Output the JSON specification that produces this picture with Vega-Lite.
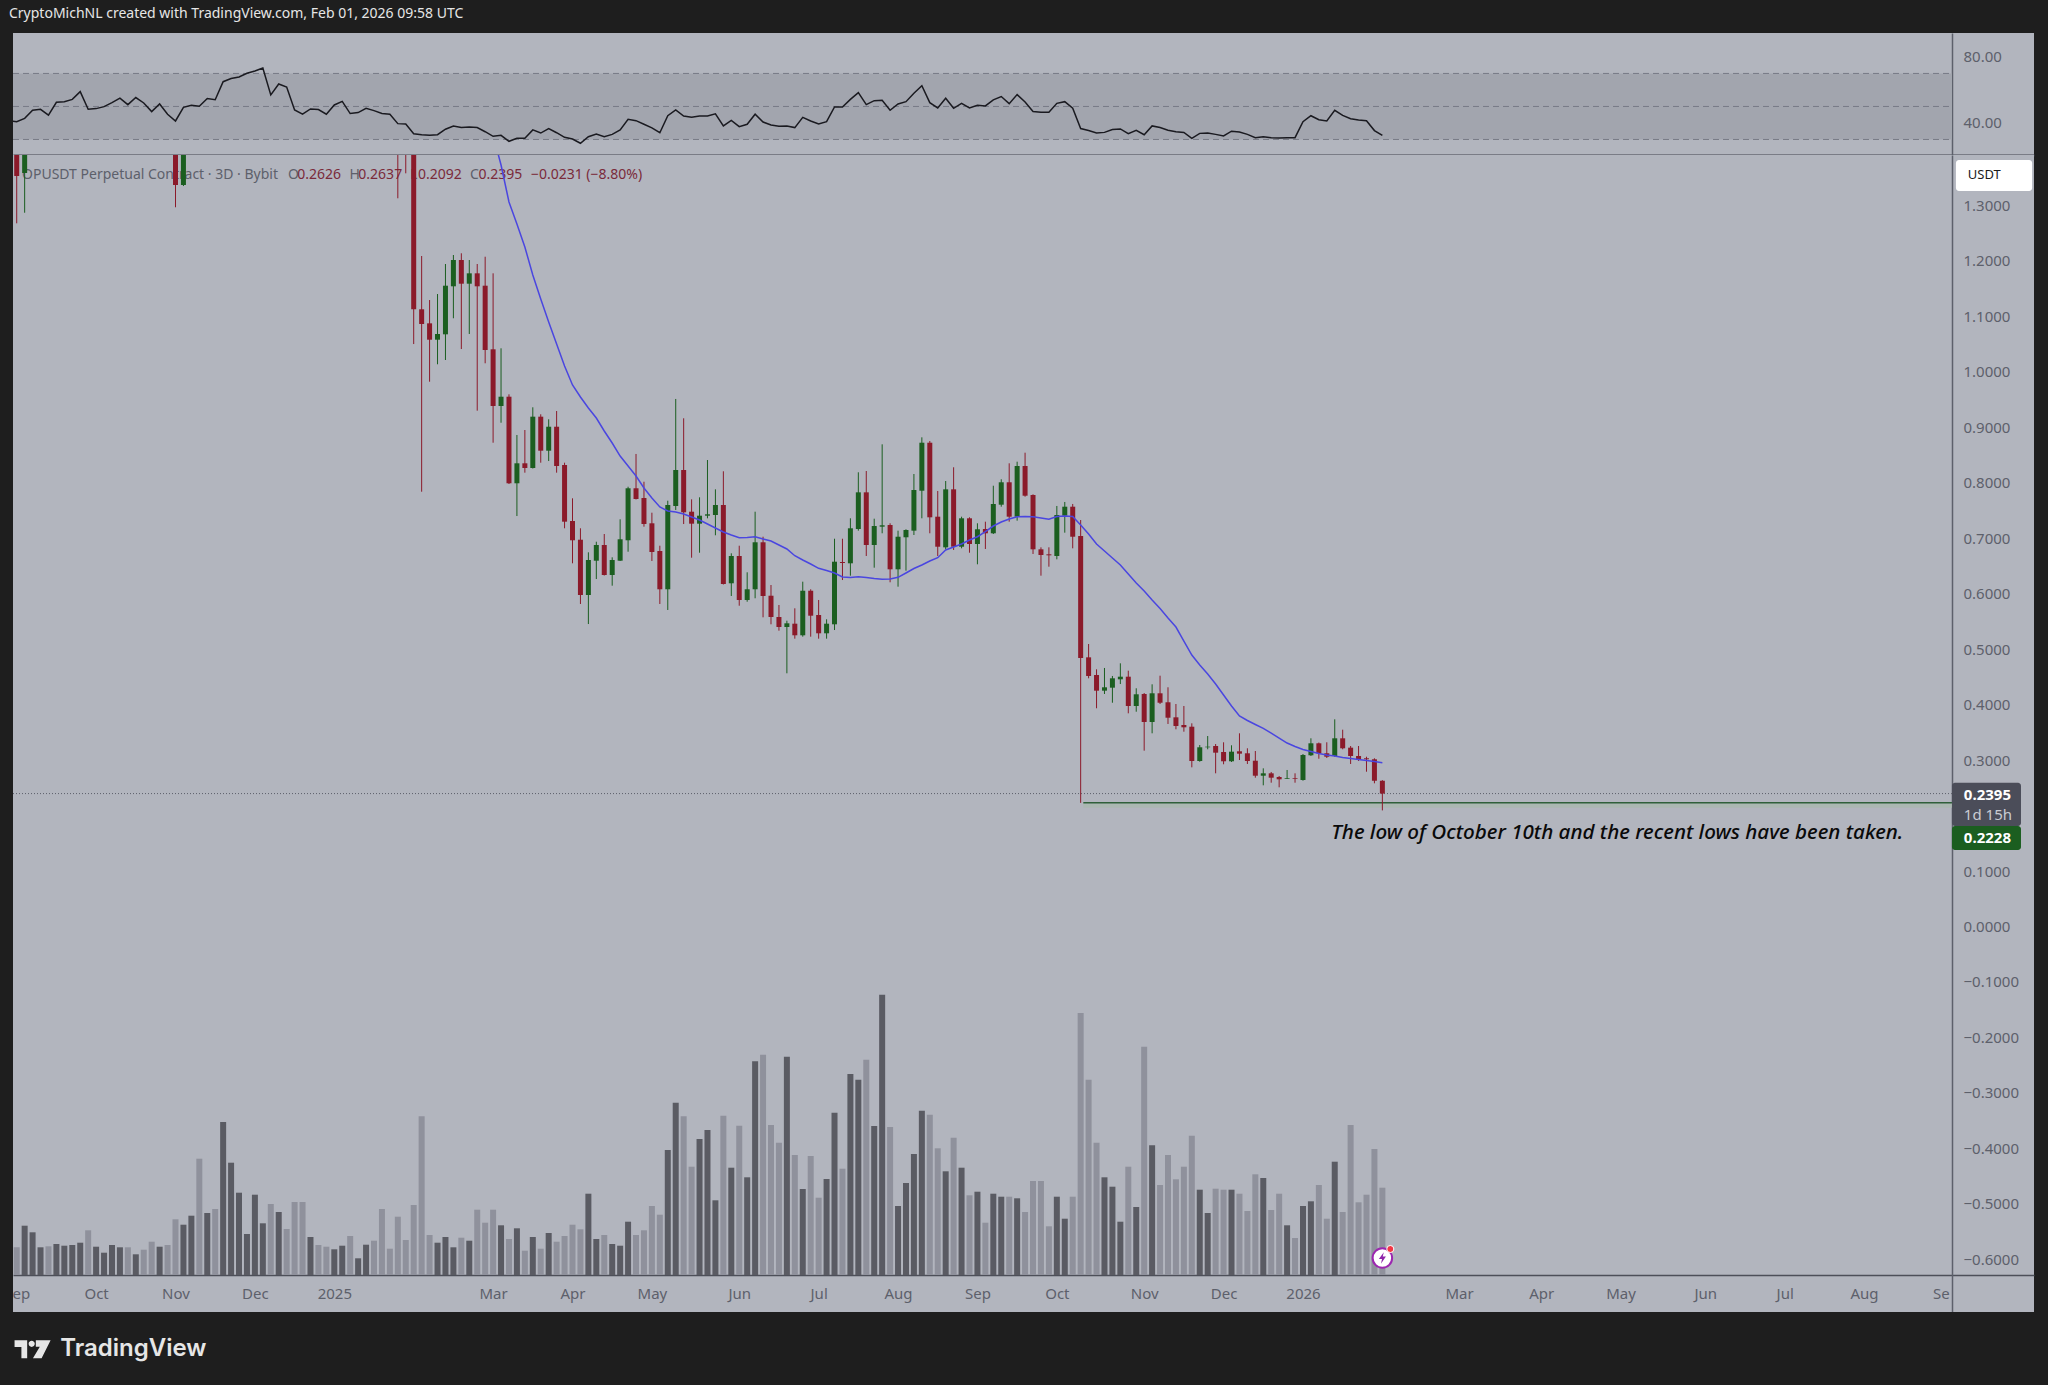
{"$schema":"https://vega.github.io/schema/vega-lite/v6.json","background":"#1e1e1e","padding":{"left":8,"top":0,"right":15,"bottom":0},"autosize":{"type":"pad"},"spacing":0,"config":{"font":"Noto Sans","view":{"fill":"#b2b5be","stroke":null},"concat":{"spacing":0}},
"datasets":{"bars":[
{"t":"2024-08-30","rsi":41.4},
{"t":"2024-09-02","dir":"down","o":1.46,"h":1.52,"l":1.267,"c":1.3523,"v":27.7,"rsi":40.8},
{"t":"2024-09-05","dir":"up","o":1.3577,"h":1.55,"l":1.2861,"c":1.48,"v":49.3,"rsi":42.8},
{"t":"2024-09-08","dir":"up","o":1.48,"h":1.62,"l":1.44,"c":1.58,"v":42.7,"rsi":47.7},
{"t":"2024-09-11","dir":"up","o":1.58,"h":1.66,"l":1.5,"c":1.6,"v":27.7,"rsi":48.3},
{"t":"2024-09-14","dir":"down","o":1.6,"h":1.64,"l":1.5,"c":1.54,"v":28.7,"rsi":44.8},
{"t":"2024-09-17","dir":"up","o":1.54,"h":1.72,"l":1.52,"c":1.68,"v":31,"rsi":52.5},
{"t":"2024-09-20","dir":"up","o":1.68,"h":1.76,"l":1.62,"c":1.7,"v":29.3,"rsi":52.9},
{"t":"2024-09-23","dir":"up","o":1.7,"h":1.8,"l":1.66,"c":1.74,"v":30,"rsi":54.3},
{"t":"2024-09-26","dir":"up","o":1.74,"h":1.92,"l":1.7,"c":1.86,"v":32.3,"rsi":59},
{"t":"2024-09-29","dir":"down","o":1.86,"h":1.9,"l":1.62,"c":1.68,"v":44.7,"rsi":48.3},
{"t":"2024-10-02","dir":"up","o":1.68,"h":1.74,"l":1.6,"c":1.69,"v":28.3,"rsi":48.7},
{"t":"2024-10-05","dir":"up","o":1.69,"h":1.76,"l":1.64,"c":1.71,"v":22.3,"rsi":49.9},
{"t":"2024-10-08","dir":"up","o":1.71,"h":1.8,"l":1.68,"c":1.76,"v":30,"rsi":52.3},
{"t":"2024-10-11","dir":"up","o":1.76,"h":1.86,"l":1.72,"c":1.82,"v":27.7,"rsi":55},
{"t":"2024-10-14","dir":"down","o":1.82,"h":1.84,"l":1.7,"c":1.74,"v":27.7,"rsi":51.1},
{"t":"2024-10-17","dir":"up","o":1.74,"h":1.88,"l":1.7,"c":1.84,"v":20.7,"rsi":55.4},
{"t":"2024-10-20","dir":"down","o":1.84,"h":1.86,"l":1.72,"c":1.76,"v":25.3,"rsi":52.1},
{"t":"2024-10-23","dir":"down","o":1.76,"h":1.78,"l":1.58,"c":1.62,"v":33.3,"rsi":46.9},
{"t":"2024-10-26","dir":"up","o":1.62,"h":1.74,"l":1.6,"c":1.7,"v":28.3,"rsi":51.5},
{"t":"2024-10-29","dir":"down","o":1.7,"h":1.72,"l":1.48,"c":1.52,"v":30,"rsi":45.3},
{"t":"2024-11-01","dir":"down","o":1.52,"h":1.58,"l":1.2959,"c":1.336,"v":55.7,"rsi":41.2},
{"t":"2024-11-04","dir":"up","o":1.336,"h":1.68,"l":1.3342,"c":1.6,"v":50.3,"rsi":49.5},
{"t":"2024-11-07","dir":"up","o":1.6,"h":1.7,"l":1.56,"c":1.64,"v":59.3,"rsi":50.7},
{"t":"2024-11-10","dir":"down","o":1.64,"h":1.72,"l":1.58,"c":1.62,"v":116.3,"rsi":50.1},
{"t":"2024-11-13","dir":"up","o":1.62,"h":1.84,"l":1.6,"c":1.78,"v":62,"rsi":54.8},
{"t":"2024-11-16","dir":"down","o":1.78,"h":1.84,"l":1.68,"c":1.76,"v":66,"rsi":54.1},
{"t":"2024-11-19","dir":"up","o":1.76,"h":2.4,"l":1.74,"c":2.3,"v":153,"rsi":65},
{"t":"2024-11-22","dir":"up","o":2.3,"h":2.52,"l":2.2,"c":2.44,"v":112.3,"rsi":66.9},
{"t":"2024-11-25","dir":"up","o":2.44,"h":2.62,"l":2.38,"c":2.56,"v":82.3,"rsi":67.9},
{"t":"2024-11-28","dir":"up","o":2.56,"h":2.78,"l":2.5,"c":2.72,"v":41,"rsi":70.1},
{"t":"2024-12-01","dir":"up","o":2.72,"h":2.9,"l":2.62,"c":2.8,"v":80.3,"rsi":71.5},
{"t":"2024-12-04","dir":"up","o":2.8,"h":3.05,"l":2.74,"c":2.98,"v":51.7,"rsi":73.3},
{"t":"2024-12-07","dir":"down","o":2.98,"h":3,"l":2.28,"c":2.36,"v":71,"rsi":57},
{"t":"2024-12-10","dir":"up","o":2.36,"h":2.72,"l":2.3,"c":2.62,"v":63,"rsi":63.6},
{"t":"2024-12-13","dir":"down","o":2.62,"h":2.66,"l":2.44,"c":2.52,"v":46,"rsi":61.8},
{"t":"2024-12-16","dir":"down","o":2.52,"h":2.54,"l":2,"c":2.06,"v":73,"rsi":47.9},
{"t":"2024-12-19","dir":"down","o":2.06,"h":2.1,"l":1.84,"c":1.92,"v":73,"rsi":45.3},
{"t":"2024-12-22","dir":"up","o":1.92,"h":2.06,"l":1.88,"c":2,"v":38,"rsi":48.5},
{"t":"2024-12-25","dir":"down","o":2,"h":2.02,"l":1.9,"c":1.96,"v":30,"rsi":48.1},
{"t":"2024-12-28","dir":"down","o":1.96,"h":2,"l":1.84,"c":1.88,"v":28.3,"rsi":45.3},
{"t":"2024-12-31","dir":"up","o":1.88,"h":2,"l":1.84,"c":1.94,"v":25.7,"rsi":50.9},
{"t":"2025-01-03","dir":"up","o":1.94,"h":2.12,"l":1.9,"c":2.04,"v":29.3,"rsi":53.1},
{"t":"2025-01-06","dir":"down","o":2.04,"h":2.06,"l":1.82,"c":1.86,"v":39,"rsi":45.7},
{"t":"2025-01-09","dir":"up","o":1.86,"h":1.92,"l":1.8,"c":1.88,"v":16.7,"rsi":46.3},
{"t":"2025-01-12","dir":"up","o":1.88,"h":2,"l":1.82,"c":1.94,"v":30.3,"rsi":48.9},
{"t":"2025-01-15","dir":"down","o":1.94,"h":1.96,"l":1.84,"c":1.88,"v":34.3,"rsi":47.5},
{"t":"2025-01-18","dir":"down","o":1.88,"h":1.9,"l":1.74,"c":1.78,"v":66,"rsi":45.7},
{"t":"2025-01-21","dir":"down","o":1.78,"h":1.8,"l":1.68,"c":1.72,"v":26.3,"rsi":45.3},
{"t":"2025-01-24","dir":"down","o":1.72,"h":1.76,"l":1.3121,"c":1.54,"v":58.3,"rsi":39.6},
{"t":"2025-01-27","dir":"down","o":1.54,"h":1.6,"l":1.3571,"c":1.5,"v":35,"rsi":39.4},
{"t":"2025-01-30","dir":"down","o":1.5,"h":1.58,"l":1.0495,"c":1.1121,"v":70,"rsi":33.5},
{"t":"2025-02-02","dir":"down","o":1.1121,"h":1.2081,"l":0.7834,"c":1.0856,"v":158.7,"rsi":32.9},
{"t":"2025-02-05","dir":"down","o":1.0868,"h":1.1288,"l":0.9816,"c":1.0573,"v":40,"rsi":32.5},
{"t":"2025-02-08","dir":"up","o":1.0573,"h":1.1396,"l":1.013,"c":1.0676,"v":32.3,"rsi":32.9},
{"t":"2025-02-11","dir":"up","o":1.067,"h":1.1937,"l":1.0207,"c":1.1546,"v":38,"rsi":36.2},
{"t":"2025-02-14","dir":"up","o":1.1535,"h":1.2099,"l":1.0959,"c":1.2009,"v":27.7,"rsi":38.2},
{"t":"2025-02-17","dir":"down","o":1.2009,"h":1.213,"l":1.0405,"c":1.1582,"v":37.3,"rsi":37.2},
{"t":"2025-02-20","dir":"up","o":1.1582,"h":1.2009,"l":1.0676,"c":1.1769,"v":34.3,"rsi":37.6},
{"t":"2025-02-23","dir":"down","o":1.1769,"h":1.1937,"l":0.9294,"c":1.1535,"v":65.3,"rsi":37.2},
{"t":"2025-02-26","dir":"down","o":1.1546,"h":1.2068,"l":1.0148,"c":1.0387,"v":52.3,"rsi":34.7},
{"t":"2025-03-01","dir":"down","o":1.04,"h":1.1769,"l":0.8717,"c":0.9378,"v":65.3,"rsi":31.9,"ma":1.4261},
{"t":"2025-03-04","dir":"up","o":0.9378,"h":1.0418,"l":0.9077,"c":0.9546,"v":49.7,"rsi":32.5,"ma":1.3721},
{"t":"2025-03-07","dir":"down","o":0.9546,"h":0.9589,"l":0.7973,"c":0.7986,"v":36,"rsi":28.9,"ma":1.3054},
{"t":"2025-03-10","dir":"up","o":0.7986,"h":0.8856,"l":0.7396,"c":0.8346,"v":46.7,"rsi":30.7,"ma":1.2658},
{"t":"2025-03-13","dir":"down","o":0.8346,"h":0.8946,"l":0.8177,"c":0.8261,"v":24.3,"rsi":30.7,"ma":1.2243},
{"t":"2025-03-16","dir":"up","o":0.8261,"h":0.9355,"l":0.8252,"c":0.9186,"v":38,"rsi":35.8,"ma":1.1739},
{"t":"2025-03-19","dir":"down","o":0.9186,"h":0.9229,"l":0.8357,"c":0.8573,"v":26.3,"rsi":33.9,"ma":1.1306},
{"t":"2025-03-22","dir":"up","o":0.8573,"h":0.9139,"l":0.8387,"c":0.9005,"v":42,"rsi":36.6,"ma":1.0892},
{"t":"2025-03-25","dir":"down","o":0.9005,"h":0.9288,"l":0.8177,"c":0.8297,"v":33.3,"rsi":34.1,"ma":1.0495},
{"t":"2025-03-28","dir":"down","o":0.8315,"h":0.8357,"l":0.7175,"c":0.7294,"v":39,"rsi":31.3,"ma":1.0099},
{"t":"2025-03-31","dir":"down","o":0.7306,"h":0.7715,"l":0.6544,"c":0.6959,"v":50.3,"rsi":30.3,"ma":0.9757},
{"t":"2025-04-03","dir":"down","o":0.6969,"h":0.7175,"l":0.5811,"c":0.5973,"v":45.7,"rsi":27.7,"ma":0.9541},
{"t":"2025-04-06","dir":"up","o":0.5973,"h":0.6742,"l":0.545,"c":0.6604,"v":81.3,"rsi":31.7,"ma":0.9342},
{"t":"2025-04-09","dir":"up","o":0.6591,"h":0.6933,"l":0.6261,"c":0.6874,"v":36,"rsi":33.3,"ma":0.9162},
{"t":"2025-04-12","dir":"down","o":0.6874,"h":0.7072,"l":0.6324,"c":0.6333,"v":40,"rsi":31.7,"ma":0.8928},
{"t":"2025-04-15","dir":"up","o":0.6333,"h":0.6652,"l":0.6141,"c":0.6604,"v":31,"rsi":33.1,"ma":0.8712},
{"t":"2025-04-18","dir":"up","o":0.6591,"h":0.7337,"l":0.6586,"c":0.6977,"v":29.3,"rsi":35.8,"ma":0.8477},
{"t":"2025-04-21","dir":"up","o":0.6959,"h":0.7924,"l":0.6753,"c":0.7896,"v":53.3,"rsi":42.2,"ma":0.8297},
{"t":"2025-04-24","dir":"down","o":0.7896,"h":0.8514,"l":0.7694,"c":0.7703,"v":40,"rsi":41.4,"ma":0.8117},
{"t":"2025-04-27","dir":"down","o":0.7721,"h":0.8014,"l":0.7204,"c":0.7252,"v":44.7,"rsi":39.2,"ma":0.7901},
{"t":"2025-04-30","dir":"down","o":0.7265,"h":0.7456,"l":0.6586,"c":0.6748,"v":69,"rsi":37,"ma":0.7721},
{"t":"2025-05-03","dir":"down","o":0.6766,"h":0.6861,"l":0.5811,"c":0.6076,"v":60.3,"rsi":34.1,"ma":0.7559},
{"t":"2025-05-06","dir":"up","o":0.6076,"h":0.7672,"l":0.5703,"c":0.7595,"v":125,"rsi":44.4,"ma":0.7486},
{"t":"2025-05-09","dir":"up","o":0.7577,"h":0.9505,"l":0.7505,"c":0.8225,"v":172.3,"rsi":47.9,"ma":0.7468},
{"t":"2025-05-12","dir":"down","o":0.8225,"h":0.9157,"l":0.7252,"c":0.7463,"v":158.7,"rsi":44.2,"ma":0.7432},
{"t":"2025-05-15","dir":"down","o":0.7474,"h":0.7697,"l":0.6645,"c":0.7258,"v":108.3,"rsi":43.4,"ma":0.7378},
{"t":"2025-05-18","dir":"up","o":0.7258,"h":0.7733,"l":0.6735,"c":0.7402,"v":136,"rsi":44.2,"ma":0.7324},
{"t":"2025-05-21","dir":"up","o":0.7402,"h":0.8405,"l":0.7355,"c":0.7427,"v":145,"rsi":44.2,"ma":0.7252},
{"t":"2025-05-24","dir":"up","o":0.7414,"h":0.7877,"l":0.7049,"c":0.7595,"v":74.7,"rsi":45.5,"ma":0.718},
{"t":"2025-05-27","dir":"down","o":0.7595,"h":0.8202,"l":0.6162,"c":0.6171,"v":159.3,"rsi":38.2,"ma":0.7108},
{"t":"2025-05-30","dir":"up","o":0.6184,"h":0.6724,"l":0.5955,"c":0.6676,"v":107.3,"rsi":41.6,"ma":0.7054},
{"t":"2025-06-02","dir":"down","o":0.6676,"h":0.6861,"l":0.578,"c":0.5883,"v":149.3,"rsi":37.8,"ma":0.7005},
{"t":"2025-06-05","dir":"up","o":0.5883,"h":0.6382,"l":0.5852,"c":0.6076,"v":97.7,"rsi":39.2,"ma":0.7009},
{"t":"2025-06-08","dir":"up","o":0.6076,"h":0.7474,"l":0.5914,"c":0.6923,"v":213.7,"rsi":45.3,"ma":0.7023},
{"t":"2025-06-11","dir":"down","o":0.6923,"h":0.7023,"l":0.5571,"c":0.5955,"v":220.3,"rsi":40.6,"ma":0.6982},
{"t":"2025-06-14","dir":"down","o":0.596,"h":0.6153,"l":0.5445,"c":0.5577,"v":150,"rsi":38.8,"ma":0.6946},
{"t":"2025-06-17","dir":"down","o":0.5577,"h":0.5793,"l":0.533,"c":0.5396,"v":132.3,"rsi":38,"ma":0.6874},
{"t":"2025-06-20","dir":"up","o":0.5396,"h":0.551,"l":0.4562,"c":0.5463,"v":218.3,"rsi":38.2,"ma":0.6802},
{"t":"2025-06-23","dir":"down","o":0.5456,"h":0.5733,"l":0.5186,"c":0.5247,"v":120,"rsi":37.2,"ma":0.6681},
{"t":"2025-06-26","dir":"up","o":0.5247,"h":0.6213,"l":0.5222,"c":0.605,"v":86,"rsi":43.4,"ma":0.6604},
{"t":"2025-06-29","dir":"down","o":0.605,"h":0.6076,"l":0.5222,"c":0.56,"v":119,"rsi":41.2,"ma":0.6532},
{"t":"2025-07-02","dir":"down","o":0.5613,"h":0.5883,"l":0.5186,"c":0.5283,"v":77.3,"rsi":39.4,"ma":0.6454},
{"t":"2025-07-05","dir":"up","o":0.5283,"h":0.5535,"l":0.5186,"c":0.5456,"v":96,"rsi":40.8,"ma":0.6414},
{"t":"2025-07-08","dir":"up","o":0.5445,"h":0.6987,"l":0.5342,"c":0.6573,"v":162.3,"rsi":49.7,"ma":0.6369},
{"t":"2025-07-11","dir":"down","o":0.6568,"h":0.6987,"l":0.6243,"c":0.655,"v":106.3,"rsi":49.7,"ma":0.6297},
{"t":"2025-07-14","dir":"up","o":0.6544,"h":0.7355,"l":0.6321,"c":0.7175,"v":201,"rsi":54.3,"ma":0.6288},
{"t":"2025-07-17","dir":"up","o":0.7162,"h":0.8184,"l":0.7132,"c":0.7823,"v":195.3,"rsi":58.4,"ma":0.6303},
{"t":"2025-07-20","dir":"down","o":0.7823,"h":0.8207,"l":0.6676,"c":0.6874,"v":215.3,"rsi":51.1,"ma":0.6288},
{"t":"2025-07-23","dir":"up","o":0.6874,"h":0.7348,"l":0.6465,"c":0.7216,"v":149,"rsi":53.5,"ma":0.627},
{"t":"2025-07-26","dir":"up","o":0.7204,"h":0.8688,"l":0.7085,"c":0.7229,"v":280.3,"rsi":53.7,"ma":0.6256},
{"t":"2025-07-29","dir":"down","o":0.7234,"h":0.7265,"l":0.6202,"c":0.6436,"v":148,"rsi":47.7,"ma":0.6261},
{"t":"2025-08-01","dir":"up","o":0.6436,"h":0.7132,"l":0.6123,"c":0.7023,"v":69,"rsi":51.5,"ma":0.6292},
{"t":"2025-08-04","dir":"up","o":0.7013,"h":0.7157,"l":0.6411,"c":0.7144,"v":92,"rsi":52.9,"ma":0.6369},
{"t":"2025-08-07","dir":"up","o":0.7132,"h":0.8153,"l":0.7054,"c":0.7865,"v":121,"rsi":58,"ma":0.645},
{"t":"2025-08-10","dir":"up","o":0.7852,"h":0.8814,"l":0.7355,"c":0.8717,"v":164.3,"rsi":62.6,"ma":0.6514},
{"t":"2025-08-13","dir":"down","o":0.8717,"h":0.8748,"l":0.7085,"c":0.7373,"v":160.3,"rsi":52.3,"ma":0.6586},
{"t":"2025-08-16","dir":"down","o":0.7384,"h":0.7847,"l":0.6676,"c":0.6843,"v":126.7,"rsi":49.1,"ma":0.6645},
{"t":"2025-08-19","dir":"up","o":0.6832,"h":0.8027,"l":0.6796,"c":0.7877,"v":103.7,"rsi":55,"ma":0.6784},
{"t":"2025-08-22","dir":"down","o":0.7877,"h":0.8274,"l":0.6784,"c":0.6843,"v":137.3,"rsi":48.9,"ma":0.6838},
{"t":"2025-08-25","dir":"up","o":0.6843,"h":0.7384,"l":0.6814,"c":0.7355,"v":107.3,"rsi":51.9,"ma":0.6892},
{"t":"2025-08-28","dir":"down","o":0.7355,"h":0.7373,"l":0.6735,"c":0.6892,"v":79.7,"rsi":49.1,"ma":0.6964},
{"t":"2025-08-31","dir":"up","o":0.6892,"h":0.7265,"l":0.6526,"c":0.7157,"v":83.3,"rsi":50.7,"ma":0.7023},
{"t":"2025-09-03","dir":"down","o":0.7162,"h":0.7294,"l":0.6802,"c":0.7085,"v":52.3,"rsi":50.3,"ma":0.7117},
{"t":"2025-09-06","dir":"up","o":0.7085,"h":0.7942,"l":0.7072,"c":0.7613,"v":81.3,"rsi":54,"ma":0.7216},
{"t":"2025-09-09","dir":"up","o":0.76,"h":0.8058,"l":0.7564,"c":0.8004,"v":78.3,"rsi":56,"ma":0.7288},
{"t":"2025-09-12","dir":"down","o":0.8004,"h":0.8346,"l":0.7294,"c":0.7384,"v":78.3,"rsi":51.7,"ma":0.7342},
{"t":"2025-09-15","dir":"up","o":0.7384,"h":0.8375,"l":0.7312,"c":0.8297,"v":76.7,"rsi":57.2,"ma":0.7384},
{"t":"2025-09-18","dir":"down","o":0.8297,"h":0.8537,"l":0.7744,"c":0.7762,"v":63,"rsi":52.7,"ma":0.7387},
{"t":"2025-09-21","dir":"down","o":0.7775,"h":0.7787,"l":0.6712,"c":0.6796,"v":94,"rsi":46.9,"ma":0.7384},
{"t":"2025-09-24","dir":"down","o":0.6796,"h":0.6832,"l":0.6321,"c":0.6694,"v":94,"rsi":46.5,"ma":0.736},
{"t":"2025-09-27","dir":"down","o":0.6706,"h":0.6832,"l":0.6483,"c":0.6688,"v":48.7,"rsi":46.5,"ma":0.7337},
{"t":"2025-09-30","dir":"up","o":0.6676,"h":0.7577,"l":0.6616,"c":0.7414,"v":78.3,"rsi":51.9,"ma":0.7387},
{"t":"2025-10-03","dir":"up","o":0.7402,"h":0.7649,"l":0.7096,"c":0.7564,"v":56.3,"rsi":52.9,"ma":0.7396},
{"t":"2025-10-06","dir":"down","o":0.7564,"h":0.7613,"l":0.6814,"c":0.7023,"v":78.3,"rsi":48.9,"ma":0.7387},
{"t":"2025-10-09","dir":"down","o":0.7036,"h":0.7324,"l":0.2228,"c":0.4838,"v":262,"rsi":36.6,"ma":0.7234},
{"t":"2025-10-12","dir":"down","o":0.485,"h":0.509,"l":0.4472,"c":0.4514,"v":195.3,"rsi":35.4,"ma":0.7072},
{"t":"2025-10-15","dir":"down","o":0.4532,"h":0.4634,"l":0.3932,"c":0.4249,"v":132.3,"rsi":33.9,"ma":0.6892},
{"t":"2025-10-18","dir":"up","o":0.4249,"h":0.4658,"l":0.4189,"c":0.431,"v":97.7,"rsi":34.3,"ma":0.6766},
{"t":"2025-10-21","dir":"up","o":0.4303,"h":0.4514,"l":0.4032,"c":0.4472,"v":88.3,"rsi":36,"ma":0.664},
{"t":"2025-10-24","dir":"up","o":0.4454,"h":0.4742,"l":0.4369,"c":0.4501,"v":53.3,"rsi":36.4,"ma":0.6514},
{"t":"2025-10-27","dir":"down","o":0.4501,"h":0.4609,"l":0.3841,"c":0.3973,"v":108.3,"rsi":33.5,"ma":0.6351},
{"t":"2025-10-30","dir":"up","o":0.3973,"h":0.4292,"l":0.387,"c":0.4184,"v":68,"rsi":35.6,"ma":0.6189},
{"t":"2025-11-02","dir":"down","o":0.4189,"h":0.4207,"l":0.3168,"c":0.3685,"v":228.3,"rsi":32.9,"ma":0.6045},
{"t":"2025-11-05","dir":"up","o":0.3685,"h":0.4364,"l":0.3481,"c":0.4202,"v":129.7,"rsi":38.2,"ma":0.5883},
{"t":"2025-11-08","dir":"down","o":0.4202,"h":0.4519,"l":0.4009,"c":0.4032,"v":90,"rsi":37.2,"ma":0.573},
{"t":"2025-11-11","dir":"down","o":0.404,"h":0.431,"l":0.3649,"c":0.3762,"v":120,"rsi":35.6,"ma":0.5559},
{"t":"2025-11-14","dir":"down","o":0.3769,"h":0.4009,"l":0.3553,"c":0.3613,"v":95.7,"rsi":34.7,"ma":0.5396},
{"t":"2025-11-17","dir":"down","o":0.3631,"h":0.3973,"l":0.351,"c":0.3589,"v":108.3,"rsi":34.3,"ma":0.5144},
{"t":"2025-11-20","dir":"down","o":0.36,"h":0.3661,"l":0.2868,"c":0.2982,"v":139.3,"rsi":30.7,"ma":0.4892},
{"t":"2025-11-23","dir":"up","o":0.2982,"h":0.327,"l":0.2969,"c":0.3229,"v":85.3,"rsi":33.7,"ma":0.4712},
{"t":"2025-11-26","dir":"up","o":0.3229,"h":0.3432,"l":0.3193,"c":0.324,"v":62,"rsi":33.9,"ma":0.455},
{"t":"2025-11-29","dir":"down","o":0.3252,"h":0.3288,"l":0.276,"c":0.3132,"v":86.3,"rsi":33.1,"ma":0.4369},
{"t":"2025-12-02","dir":"down","o":0.3144,"h":0.3319,"l":0.2923,"c":0.2977,"v":85.3,"rsi":32.1,"ma":0.4171},
{"t":"2025-12-05","dir":"up","o":0.2977,"h":0.3265,"l":0.2964,"c":0.315,"v":85.3,"rsi":35,"ma":0.3973},
{"t":"2025-12-08","dir":"down","o":0.3157,"h":0.3481,"l":0.3,"c":0.3114,"v":81.3,"rsi":34.5,"ma":0.3793},
{"t":"2025-12-11","dir":"down","o":0.3121,"h":0.3211,"l":0.2928,"c":0.2982,"v":64,"rsi":33.1,"ma":0.3712},
{"t":"2025-12-14","dir":"down","o":0.2987,"h":0.3162,"l":0.2681,"c":0.2717,"v":100.7,"rsi":31.1,"ma":0.364},
{"t":"2025-12-17","dir":"up","o":0.2717,"h":0.285,"l":0.2544,"c":0.276,"v":97,"rsi":31.7,"ma":0.3571},
{"t":"2025-12-20","dir":"down","o":0.276,"h":0.2784,"l":0.2591,"c":0.2681,"v":65,"rsi":31.1,"ma":0.3486},
{"t":"2025-12-23","dir":"down","o":0.2694,"h":0.2712,"l":0.2508,"c":0.2652,"v":81.3,"rsi":30.9,"ma":0.3396},
{"t":"2025-12-26","dir":"up","o":0.2663,"h":0.282,"l":0.2658,"c":0.2676,"v":49.7,"rsi":31.1,"ma":0.3306},
{"t":"2025-12-29","dir":"down","o":0.2676,"h":0.276,"l":0.2591,"c":0.2663,"v":37,"rsi":31.1,"ma":0.3243},
{"t":"2026-01-01","dir":"up","o":0.264,"h":0.3108,"l":0.2627,"c":0.309,"v":69,"rsi":40.8,"ma":0.3189},
{"t":"2026-01-04","dir":"up","o":0.3085,"h":0.3391,"l":0.3072,"c":0.3301,"v":73.7,"rsi":44.4,"ma":0.3153},
{"t":"2026-01-07","dir":"down","o":0.3301,"h":0.3315,"l":0.3023,"c":0.3121,"v":90,"rsi":42,"ma":0.3117},
{"t":"2026-01-10","dir":"down","o":0.3121,"h":0.3319,"l":0.3036,"c":0.3059,"v":56.3,"rsi":41.2,"ma":0.309},
{"t":"2026-01-13","dir":"up","o":0.3072,"h":0.3733,"l":0.3059,"c":0.3391,"v":113.3,"rsi":47.7,"ma":0.3072},
{"t":"2026-01-16","dir":"down","o":0.3391,"h":0.3546,"l":0.3193,"c":0.3211,"v":63,"rsi":44.6,"ma":0.3045},
{"t":"2026-01-19","dir":"down","o":0.3222,"h":0.3252,"l":0.2928,"c":0.3072,"v":150,"rsi":42.6,"ma":0.3027},
{"t":"2026-01-22","dir":"down","o":0.3072,"h":0.3252,"l":0.2982,"c":0.3013,"v":72.7,"rsi":41.8,"ma":0.3009},
{"t":"2026-01-25","dir":"down","o":0.3031,"h":0.3059,"l":0.2789,"c":0.3013,"v":80.3,"rsi":41.4,"ma":0.2991},
{"t":"2026-01-28","dir":"down","o":0.3013,"h":0.3031,"l":0.258,"c":0.2626,"v":126,"rsi":35.4,"ma":0.2973},
{"t":"2026-01-31","dir":"down","o":0.2626,"h":0.2637,"l":0.2092,"c":0.2395,"v":87.3,"rsi":32.5,"ma":0.2951}
],
"legendLabels":[{"t":"2024-09-04","p":1.3546,"s":"OPUSDT Perpetual Contract · 3D · Bybit"},{"t":"2024-12-13T12:00:00Z","p":1.3546,"s":"O"},{"t":"2025-01-05T17:00:00Z","p":1.3546,"s":"H"},{"t":"2025-01-28T14:00:00Z","p":1.3546,"s":"L"},{"t":"2025-02-20T07:00:00Z","p":1.3546,"s":"C"}],
"legendValues":[{"t":"2024-12-17T00:00:00Z","p":1.3546,"s":"0.2626"},{"t":"2025-01-09T02:00:00Z","p":1.3546,"s":"0.2637"},{"t":"2025-01-31T14:00:00Z","p":1.3546,"s":"0.2092"},{"t":"2025-02-23T12:00:00Z","p":1.3546,"s":"0.2395"},{"t":"2025-03-15T07:00:00Z","p":1.3546,"s":"−0.0231 (−8.80%)"}],
"tags":[{"t":"2026-09-03T05:00:00Z","t2":"2026-09-29T07:00:00Z","p":0.2591,"p2":0.1811,"kind":"last"},{"t":"2026-09-03T05:00:00Z","t2":"2026-09-29T07:00:00Z","p":0.1811,"p2":0.1378,"kind":"low"},{"t":"2026-09-04T17:00:00Z","t2":"2026-10-03T12:00:00Z","p":1.3811,"p2":1.3252,"kind":"unit"}],
"levels":[{"t":"2024-08-31T14:24:00Z","t2":"2026-09-03T05:00:00Z","rsi":70},{"t":"2024-08-31T14:24:00Z","t2":"2026-09-03T05:00:00Z","rsi":50},{"t":"2024-08-31T14:24:00Z","t2":"2026-09-03T05:00:00Z","rsi":30}],
"band":[{"t":"2024-08-31T14:24:00Z","t2":"2026-09-03T05:00:00Z","lo":30,"hi":70}]},
"vconcat":[
{"width":2021,"height":33,"view":{"fill":"#1e1e1e","stroke":null},"data":{"values":[{"t":"2024-08-30T02:00:00Z","pos":0.576,"s":"CryptoMichNL created with TradingView.com, Feb 01, 2026 09:58 UTC"}]},"mark":{"type":"text","align":"left","baseline":"middle","color":"#e6e6e6","fontSize":14},"encoding":{"x":{"field":"t","type":"temporal","scale":{"type":"utc","domain":["2024-08-31T14:24:00Z","2026-10-04T05:00:00Z"],"padding":0},"axis":null},"y":{"field":"pos","type":"quantitative","scale":{"domain":[0,1],"nice":false},"axis":null},"text":{"field":"s"}}},
{"width":2021,"height":122,
"layer":[
{"data":{"name":"band"},"mark":{"type":"rect","color":"#a2a5ae"},"encoding":{"x":{"field":"t","type":"temporal","scale":{"type":"utc","domain":["2024-08-31T14:24:00Z","2026-10-04T05:00:00Z"],"padding":0},"axis":{"title":null,"labels":false,"ticks":false,"grid":false,"domain":true,"domainColor":"#43454e","domainWidth":2}},"x2":{"field":"t2"},"y":{"field":"lo","type":"quantitative","scale":{"domain":[20.6,94.5],"nice":false},"axis":{"title":null,"values":[40,80],"format":".2f","orient":"right","offset":-82,"grid":false,"ticks":false,"domain":true,"domainColor":"#5d606b","domainWidth":1.5,"labelColor":"#5d606b","labelFontSize":15,"labelPadding":11}},"y2":{"field":"hi"}}},
{"data":{"name":"levels"},"mark":{"type":"rule","color":"#787b86","strokeDash":[6,4],"strokeWidth":1},"encoding":{"x":{"field":"t","type":"temporal"},"x2":{"field":"t2"},"y":{"field":"rsi","type":"quantitative"}}},
{"data":{"name":"bars"},"mark":{"type":"line","color":"#1a1a20","strokeWidth":1.5,"clip":true},"encoding":{"x":{"field":"t","type":"temporal"},"y":{"field":"rsi","type":"quantitative"}}}
]},
{"width":2021,"height":1157,"resolve":{"scale":{"y":"independent","color":"independent"},"axis":{"y":"independent"}},
"layer":[
{"data":{"name":"bars"},"mark":{"type":"bar","size":6},"encoding":{"x":{"field":"t","type":"temporal","scale":{"type":"utc","domain":["2024-08-31T14:24:00Z","2026-10-04T05:00:00Z"],"padding":0},"axis":{"title":null,"grid":false,"ticks":false,"domain":true,"domainColor":"#4d4f59","domainWidth":1.5,"orient":"bottom","offset":-37,"labelColor":"#5d606b","labelFontSize":15,"labelPadding":11,"labelOverlap":false,"labelBound":false,"labelFlush":false,"values":[{"year":2024,"month":9,"date":3,"hours":14,"utc":true},{"year":2024,"month":10,"date":2,"utc":true},{"year":2024,"month":11,"date":1,"utc":true},{"year":2024,"month":12,"date":1,"utc":true},{"year":2024,"month":12,"date":31,"utc":true},{"year":2025,"month":3,"date":1,"utc":true},{"year":2025,"month":3,"date":31,"utc":true},{"year":2025,"month":4,"date":30,"utc":true},{"year":2025,"month":6,"date":2,"utc":true},{"year":2025,"month":7,"date":2,"utc":true},{"year":2025,"month":8,"date":1,"utc":true},{"year":2025,"month":8,"date":31,"utc":true},{"year":2025,"month":9,"date":30,"utc":true},{"year":2025,"month":11,"date":2,"utc":true},{"year":2025,"month":12,"date":2,"utc":true},{"year":2026,"month":1,"date":1,"utc":true},{"year":2026,"month":3,"date":1,"utc":true},{"year":2026,"month":4,"date":1,"utc":true},{"year":2026,"month":5,"date":1,"utc":true},{"year":2026,"month":6,"date":2,"utc":true},{"year":2026,"month":7,"date":2,"utc":true},{"year":2026,"month":8,"date":1,"utc":true},{"year":2026,"month":8,"date":30,"utc":true}],"labelExpr":"utcyear(+datum.value)==2024 && utcmonth(+datum.value)==8 ? 'ep' : utcyear(+datum.value)==2026 && utcmonth(+datum.value)==7 && utcdate(+datum.value)==30 ? 'Se' : utcmonth(+datum.value+259200000)==0 ? utcFormat(+datum.value+259200000,'%Y') : utcFormat(+datum.value+259200000,'%b')"}},"y":{"field":"v","type":"quantitative","stack":null,"scale":{"domain":[-37,1120],"nice":false},"axis":null},"color":{"field":"dir","type":"nominal","scale":{"domain":["up","down"],"range":["#5a5b63","#8f919c"]},"legend":null}}},
{"resolve":{"scale":{"color":"independent"}},"layer":[
{"data":{"values":[{"t":"2024-08-31T14:24:00Z","t2":"2026-09-03T05:00:00Z","p":0.2395}]},"mark":{"type":"rule","color":"#5d606b","strokeDash":[1,2],"strokeWidth":1},"encoding":{"x":{"field":"t","type":"temporal"},"x2":{"field":"t2"},"y":{"field":"p","type":"quantitative","scale":{"domain":[-0.6946,1.3901],"nice":false},"axis":{"title":null,"values":[-0.6,-0.5,-0.4,-0.3,-0.2,-0.1,0,0.1,0.2,0.3,0.4,0.5,0.6,0.7,0.8,0.9,1,1.1,1.2,1.3],"format":".4f","orient":"right","offset":-82,"grid":false,"ticks":false,"domain":true,"domainColor":"#5d606b","domainWidth":1.5,"labelColor":"#5d606b","labelFontSize":15,"labelPadding":11}}}},
{"data":{"values":[{"t":"2025-10-10","t2":"2026-09-03T05:00:00Z","p":0.2228,"p2":0.2138}]},"mark":{"type":"rect","color":"#abb7b2"},"encoding":{"x":{"field":"t","type":"temporal"},"x2":{"field":"t2"},"y":{"field":"p","type":"quantitative"},"y2":{"field":"p2"}}},
{"data":{"values":[{"t":"2025-10-10","t2":"2026-09-03T05:00:00Z","p":0.2228}]},"mark":{"type":"rule","color":"#2f5f3a","strokeWidth":1.5},"encoding":{"x":{"field":"t","type":"temporal"},"x2":{"field":"t2"},"y":{"field":"p","type":"quantitative"}}},
{"data":{"name":"legendLabels"},"mark":{"type":"text","align":"left","baseline":"middle","color":"#5d606b","fontSize":14},"encoding":{"x":{"field":"t","type":"temporal"},"y":{"field":"p","type":"quantitative"},"text":{"field":"s"}}},
{"data":{"name":"legendValues"},"mark":{"type":"text","align":"left","baseline":"middle","color":"#7a2a3a","fontSize":14},"encoding":{"x":{"field":"t","type":"temporal"},"y":{"field":"p","type":"quantitative"},"text":{"field":"s"}}},
{"data":{"name":"bars"},"mark":{"type":"rule","strokeWidth":1,"clip":true},"encoding":{"x":{"field":"t","type":"temporal"},"y":{"field":"l","type":"quantitative"},"y2":{"field":"h"},"color":{"field":"dir","type":"nominal","scale":{"domain":["up","down"],"range":["#1b5e20","#8b1a2a"]},"legend":null}}},
{"data":{"name":"bars"},"mark":{"type":"bar","size":5,"clip":true},"encoding":{"x":{"field":"t","type":"temporal"},"y":{"field":"o","type":"quantitative"},"y2":{"field":"c"},"color":{"field":"dir","type":"nominal","scale":{"domain":["up","down"],"range":["#1b5e20","#8b1a2a"]},"legend":null}}},
{"data":{"name":"bars"},"transform":[{"filter":"isValid(datum.ma)"}],"mark":{"type":"line","color":"#4a46e0","strokeWidth":1.5,"clip":true},"encoding":{"x":{"field":"t","type":"temporal"},"y":{"field":"ma","type":"quantitative"}}},
{"data":{"name":"tags"},"mark":{"type":"rect","cornerRadius":3},"encoding":{"x":{"field":"t","type":"temporal"},"x2":{"field":"t2"},"y":{"field":"p","type":"quantitative"},"y2":{"field":"p2"},"color":{"field":"kind","type":"nominal","scale":{"domain":["last","low","unit"],"range":["#4b4d59","#1b5e20","#ffffff"]},"legend":null}}},
{"data":{"values":[{"t":"2026-09-07T17:00:00Z","p":0.2369,"s":"0.2395"},{"t":"2026-09-07T17:00:00Z","p":0.1595,"s":"0.2228"}]},"mark":{"type":"text","align":"left","baseline":"middle","color":"#ffffff","fontSize":15,"fontWeight":"bold"},"encoding":{"x":{"field":"t","type":"temporal"},"y":{"field":"p","type":"quantitative"},"text":{"field":"s"}}},
{"data":{"values":[{"t":"2026-09-07T17:00:00Z","p":0.2009,"s":"1d 15h"}]},"mark":{"type":"text","align":"left","baseline":"middle","color":"#c9cbd3","fontSize":15},"encoding":{"x":{"field":"t","type":"temporal"},"y":{"field":"p","type":"quantitative"},"text":{"field":"s"}}},
{"data":{"values":[{"t":"2026-09-09T05:00:00Z","p":1.3532,"s":"USDT"}]},"mark":{"type":"text","align":"left","baseline":"middle","color":"#1a1a1a","fontSize":13},"encoding":{"x":{"field":"t","type":"temporal"},"y":{"field":"p","type":"quantitative"},"text":{"field":"s"}}},
{"data":{"values":[{"t":"2026-01-11T17:00:00Z","p":0.1685,"s":"The low of October 10th and the recent lows have been taken."}]},"mark":{"type":"text","align":"left","baseline":"middle","color":"#0a0a0a","fontSize":20.6,"fontStyle":"italic","fontWeight":500},"encoding":{"x":{"field":"t","type":"temporal"},"y":{"field":"p","type":"quantitative"},"text":{"field":"s"}}},
{"data":{"values":[{"t":"2026-01-31","p":-0.5973}]},"mark":{"type":"point","shape":"circle","filled":true,"fill":"#ffffff","stroke":"#9c27b0","strokeWidth":2,"size":380,"opacity":1},"encoding":{"x":{"field":"t","type":"temporal"},"y":{"field":"p","type":"quantitative"}}},
{"data":{"values":[{"t":"2026-01-31","p":-0.5973}]},"mark":{"type":"point","shape":"M0.2,-0.8 L-0.5,0.15 L-0.05,0.15 L-0.2,0.8 L0.5,-0.2 L0.05,-0.2 Z","filled":true,"color":"#8e24aa","size":200,"opacity":1},"encoding":{"x":{"field":"t","type":"temporal"},"y":{"field":"p","type":"quantitative"}}},
{"data":{"values":[{"t":"2026-02-03","p":-0.5811}]},"mark":{"type":"point","shape":"circle","filled":true,"fill":"#f23645","stroke":"#ffffff","strokeWidth":1,"size":50,"opacity":1},"encoding":{"x":{"field":"t","type":"temporal"},"y":{"field":"p","type":"quantitative"}}}
]}
]},
{"width":2021,"height":73,"view":{"fill":"#1e1e1e","stroke":null},
"layer":[
{"data":{"values":[{"t":"2024-09-08","pos":0.49}]},"mark":{"type":"point","shape":"M-1,-0.5 L-0.3,-0.5 L-0.3,0.5 L-0.62,0.5 L-0.62,-0.12 L-1,-0.12 Z M-0.22,-0.3 a0.17,0.17 0 1,0 0.34,0 a0.17,0.17 0 1,0 -0.34,0 Z M0.18,-0.5 L1,-0.5 L0.5,0.5 L0.02,0.5 L0.4,-0.14 L0.18,-0.14 Z","filled":true,"color":"#e6e6e6","size":1300,"opacity":1},"encoding":{"x":{"field":"t","type":"temporal","scale":{"type":"utc","domain":["2024-08-31T14:24:00Z","2026-10-04T05:00:00Z"],"padding":0},"axis":null},"y":{"field":"pos","type":"quantitative","scale":{"domain":[0,1],"nice":false},"axis":null}}},
{"data":{"values":[{"t":"2024-09-18T10:00:00Z","pos":0.49,"s":"TradingView"}]},"mark":{"type":"text","align":"left","baseline":"middle","color":"#e6e6e6","fontSize":24,"fontWeight":600,"font":"Inter"},"encoding":{"x":{"field":"t","type":"temporal"},"y":{"field":"pos","type":"quantitative"},"text":{"field":"s"}}}
]}
]}
